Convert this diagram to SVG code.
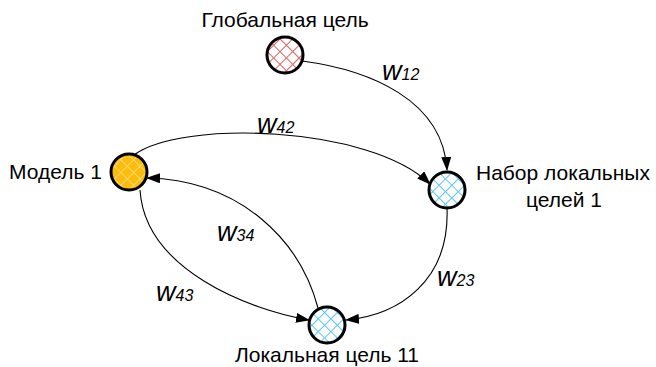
<svg xmlns="http://www.w3.org/2000/svg" width="656" height="367" viewBox="0 0 656 367">
<style>
.lbl{font-family:"Liberation Sans",Arial,sans-serif;font-size:21px;fill:#000}
.w{font-family:"Liberation Sans",Arial,sans-serif;font-style:italic;font-size:27px;fill:#000}
.sub{font-size:16px}
.node{stroke:#000;stroke-width:3}
.edge{fill:none;stroke:#000;stroke-width:1.1;marker-end:url(#arr)}
</style>
<defs>
<marker id="arr" viewBox="0 0 14 10" refX="13" refY="5" markerWidth="14" markerHeight="10" markerUnits="userSpaceOnUse" orient="auto">
<path d="M0,0 L14,5 L0,10 Z" fill="#000"/>
</marker>
<pattern id="hr" width="9" height="9" patternUnits="userSpaceOnUse" patternTransform="rotate(45)">
<rect width="9" height="9" fill="#fff"/>
<path d="M0,0 H9 M0,0 V9" stroke="#e06060" stroke-width="2"/>
</pattern>
<pattern id="hb" width="9" height="9" patternUnits="userSpaceOnUse" patternTransform="rotate(45)">
<rect width="9" height="9" fill="#fff"/>
<path d="M0,0 H9 M0,0 V9" stroke="#5cc8f0" stroke-width="2"/>
</pattern>
<pattern id="hy" width="9" height="9" patternUnits="userSpaceOnUse" patternTransform="rotate(45)">
<rect width="9" height="9" fill="#fbbd0d"/>
<path d="M0,0 H9 M0,0 V9" stroke="#f8dc88" stroke-width="1.5"/>
</pattern>
</defs>
<g id="connectors">
<path class="edge" d="M302,61 C370,70 443,100 447,170"/>
<path class="edge" d="M134,155 C180,120 370,125 430,184"/>
<path class="edge" d="M140,190 C145,270 250,310 309,320"/>
<path class="edge" d="M318,308 C300,240 240,180 147,178"/>
<path class="edge" d="M447,208 C450,280 400,315 346,320"/>
<text class="w" x="382" y="80">w<tspan class="sub">12</tspan></text>
<text class="w" x="257" y="133">w<tspan class="sub">42</tspan></text>
<text class="w" x="217" y="241">w<tspan class="sub">34</tspan></text>
<text class="w" x="156" y="301">w<tspan class="sub">43</tspan></text>
<text class="w" x="437" y="286">w<tspan class="sub">23</tspan></text>
</g>
<g id="global">
<circle class="node" cx="285" cy="55" r="18" fill="url(#hr)"/>
<text class="lbl" x="285" y="27" text-anchor="middle">Глобальная цель</text>
</g>
<g id="model1">
<circle class="node" cx="129" cy="172" r="18" fill="url(#hy)"/>
<text class="lbl" x="102" y="179" text-anchor="end">Модель 1</text>
</g>
<g id="set1">
<circle class="node" cx="447" cy="190" r="18" fill="url(#hb)"/>
<text class="lbl" x="476" y="180">Набор локальных</text>
<text class="lbl" x="564" y="207" text-anchor="middle">целей 1</text>
</g>
<g id="local11">
<circle class="node" cx="327" cy="325" r="18" fill="url(#hb)"/>
<text class="lbl" x="327" y="362" text-anchor="middle">Локальная цель 11</text>
</g>
</svg>
